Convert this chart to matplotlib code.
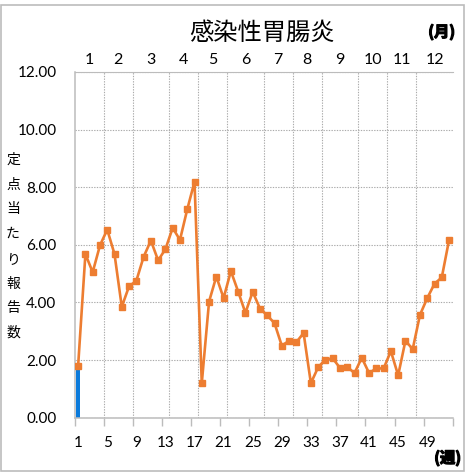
import matplotlib
matplotlib.use("Agg")
import matplotlib.pyplot as plt
import matplotlib.transforms as mtransforms
import matplotlib.patheffects as pe
from matplotlib.patches import Rectangle
import numpy as np

plt.rcParams['font.family'] = ['Lato', 'Noto Sans CJK JP', 'DejaVu Sans']

TITLE = "感染性胃腸炎"
YLABEL = "定点当たり報告数"

weeks = list(range(1, 53))
rate = [1.81, 5.68, 5.05, 5.98, 6.53, 5.68, 3.85, 4.56, 4.75, 5.58,
        6.15, 5.46, 5.85, 6.59, 6.17, 7.23, 8.19, 1.20, 4.03, 4.90,
        4.15, 5.09, 4.38, 3.64, 4.37, 3.79, 3.55, 3.28, 2.50, 2.67,
        2.62, 2.94, 1.20, 1.75, 2.02, 2.06, 1.73, 1.76, 1.55, 2.08,
        1.55, 1.71, 1.71, 2.31, 1.47, 2.67, 2.38, 3.57, 4.15, 4.65,
        4.87, 6.17]
current_week = [1]
current_rate = [1.79]

months = ["1", "2", "3", "4", "5", "6", "7", "8", "9", "10", "11", "12"]
weeks_per_month = [4, 4, 5, 4, 4, 5, 4, 4, 5, 4, 4, 5]
week_labels = list(range(1, 53, 4))

ORANGE = "#ED7D31"
BLUE = "#0A7ADB"
GRID = "#ababab"
AXIS = "#bcbcbc"

W, H = 466, 472
fig = plt.figure(figsize=(W / 100, H / 100), dpi=100)
ax = fig.add_axes([74.5 / W, 1 - 417.7 / H, (452.7 - 74.5) / W, (417.7 - 72) / H])

ax.bar(current_week, current_rate, width=0.55, color=BLUE, zorder=2)
ax.plot(weeks, rate, color=ORANGE, lw=1.9, marker='s', ms=4.6, zorder=3)

ax.set_xlim(0.5, 52.5)
ax.set_ylim(0, 12)

# y axis
ax.set_yticks(np.arange(0, 12.1, 2))
ax.set_yticklabels([f"{v:.2f}" for v in np.arange(0, 12.1, 2)], fontsize=11)
ax.tick_params(axis='y', length=0, pad=13)
ax.yaxis.grid(True, color=GRID, linestyle=(0, (1.2, 1.2)), lw=0.8)

# x axis: ticks at category boundaries, labels at centres
ax.set_xticks(np.arange(0.5, 53, 4))
ax.set_xticklabels([])
ax.set_xticks(week_labels, minor=True)
ax.set_xticklabels([str(w) for w in week_labels], minor=True, fontsize=11)
ax.tick_params(axis='x', which='major', length=6, color=AXIS, width=1)
ax.tick_params(axis='x', which='minor', length=0, pad=13)

# month boundaries
bounds = np.cumsum(weeks_per_month) + 0.5
for b in bounds[:-1]:
    ax.axvline(b, color=GRID, linestyle=(0, (1.2, 1.2)), lw=0.8, zorder=1)

trans = mtransforms.blended_transform_factory(ax.transData, ax.transAxes)
starts = np.concatenate([[0.5], bounds[:-1]])
for m, s, e in zip(months, starts, bounds):
    ax.text((s + e) / 2, 1.035, m, transform=trans, ha='center', va='center',
            fontsize=11.5)

ax.spines['right'].set_visible(False)
for side in ['left', 'bottom', 'top']:
    ax.spines[side].set_color(AXIS)
    ax.spines[side].set_linewidth(1.1)
ax.spines['top'].set_linewidth(0.8)

# titles and units
fig.text(262 / W, 1 - 33 / H, TITLE, ha='center', va='center', fontsize=17.5,
         family='Noto Sans CJK JP')
bold = [pe.withStroke(linewidth=0.9, foreground='black')]
fig.text(455 / W, 1 - 32 / H, "(月)", ha='right', va='center', fontsize=11,
         fontweight='bold', family='Noto Sans CJK JP', path_effects=bold)
fig.text(461 / W, 1 - 458 / H, "(週)", ha='right', va='center', fontsize=11,
         fontweight='bold', family='Noto Sans CJK JP', path_effects=bold)

for i, ch in enumerate(YLABEL):
    fig.text(13 / W, 1 - (160 + i * 24.7) / H, ch, ha='center', va='center',
             fontsize=10, family='Noto Sans CJK JP')

# figure border
fig.add_artist(Rectangle((0.8 / W, 1 - 471 / H), 463.5 / W, 466 / H,
                         transform=fig.transFigure, fill=False,
                         edgecolor=AXIS, lw=1.2))

fig.savefig("out.png", dpi=100)
